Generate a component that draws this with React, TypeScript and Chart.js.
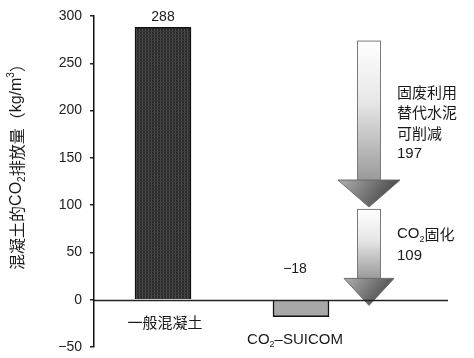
import React, { useEffect, useRef } from "react";
import { Chart, registerables } from "chart.js";

Chart.register(...registerables);

const CATEGORIES = ["一般混凝土", "CO2–SUICOM"];
const VALUES = [288, -18];
const VALUE_LABELS = ["288", "−18"];
const Y_MIN = -50;
const Y_MAX = 300;
const Y_STEP = 50;
// reduction arrows: start value -> end value
const ARROW_FROM = [274, 96];
const ARROW_TO = [98, -6];
const ARROW_TEXT_1 = ["固废利用", "替代水泥", "可削减", "197"];
const ARROW_TEXT_2 = ["CO2固化", "109"];
const Y_TITLE = "混凝土的CO2排放量（kg/m3）";

const LATIN = '"Liberation Sans", Arial, "Noto Sans CJK SC", sans-serif';
const CJK = '"Noto Sans CJK SC", "Liberation Sans", sans-serif';

type Seg = { t: string; sub?: boolean; sup?: boolean };

function parseRich(s: string): Seg[] {
  const out: Seg[] = [];
  let i = 0;
  let buf = "";
  while (i < s.length) {
    if (s.startsWith("CO2", i)) {
      buf += "CO";
      out.push({ t: buf });
      buf = "";
      out.push({ t: "2", sub: true });
      i += 3;
    } else if (s.startsWith("m3", i)) {
      buf += "m";
      out.push({ t: buf });
      buf = "";
      out.push({ t: "3", sup: true });
      i += 2;
    } else {
      buf += s[i];
      i++;
    }
  }
  if (buf) out.push({ t: buf });
  return out;
}

const CJK_RE = /[\u3000-\u9fff\uff00-\uffef]/;

function fontFor(t: string, size: number) {
  return `${size}px ${CJK_RE.test(t) ? CJK : LATIN}`;
}

function splitRuns(t: string): string[] {
  const runs: string[] = [];
  let cur = "";
  let curCjk: boolean | null = null;
  for (const ch of t) {
    const c = CJK_RE.test(ch);
    if (curCjk === null || c === curCjk) {
      cur += ch;
    } else {
      runs.push(cur);
      cur = ch;
    }
    curCjk = c;
  }
  if (cur) runs.push(cur);
  return runs;
}

function drawRich(
  ctx: CanvasRenderingContext2D,
  text: string,
  x: number,
  y: number,
  size: number,
  align: "left" | "center"
) {
  const segs = parseRich(text);
  const pieces: { t: string; size: number; dy: number }[] = [];
  for (const s of segs) {
    const sz = s.sub || s.sup ? Math.round(size * 0.6) : size;
    const dy = s.sub ? size * 0.35 : s.sup ? -size * 0.35 : 0;
    for (const r of splitRuns(s.t)) pieces.push({ t: r, size: sz, dy });
  }
  let total = 0;
  const widths = pieces.map((p) => {
    ctx.font = fontFor(p.t, p.size);
    const w = ctx.measureText(p.t).width;
    total += w;
    return w;
  });
  let cx = align === "center" ? x - total / 2 : x;
  ctx.textAlign = "left";
  ctx.textBaseline = "middle";
  pieces.forEach((p, i) => {
    ctx.font = fontFor(p.t, p.size);
    ctx.fillText(p.t, cx, y + p.dy);
    cx += widths[i];
  });
}

function makePattern(ctx: CanvasRenderingContext2D) {
  const c = document.createElement("canvas");
  c.width = 3;
  c.height = 3;
  const p = c.getContext("2d")!;
  p.fillStyle = "#2b2b2b";
  p.fillRect(0, 0, 3, 3);
  p.fillStyle = "#4d4d4d";
  p.fillRect(1, 0, 1, 3);
  p.fillStyle = "#3a3a3a";
  p.fillRect(0, 1, 3, 1);
  return ctx.createPattern(c, "repeat");
}

function drawArrow(
  ctx: CanvasRenderingContext2D,
  cx: number,
  yTop: number,
  yTip: number,
  shaftHalf: number,
  headHalf: number,
  headLen: number
) {
  const headY = yTip - headLen;
  const g = ctx.createLinearGradient(0, yTop, 0, headY);
  g.addColorStop(0, "#ffffff");
  g.addColorStop(0.45, "#e6e6e6");
  g.addColorStop(1, "#9a9a9a");
  ctx.fillStyle = g;
  ctx.fillRect(cx - shaftHalf, yTop, shaftHalf * 2, headY - yTop);
  ctx.strokeStyle = "#7a7a7a";
  ctx.lineWidth = 1;
  ctx.strokeRect(cx - shaftHalf + 0.5, yTop + 0.5, shaftHalf * 2 - 1, headY - yTop);

  const hg = ctx.createLinearGradient(cx - headHalf, headY, cx + headHalf * 0.4, yTip);
  hg.addColorStop(0, "#b0b0b0");
  hg.addColorStop(1, "#505050");
  ctx.beginPath();
  ctx.moveTo(cx - headHalf, headY);
  ctx.lineTo(cx + headHalf, headY);
  ctx.lineTo(cx, yTip);
  ctx.closePath();
  ctx.fillStyle = hg;
  ctx.fill();
  ctx.strokeStyle = "#6a6a6a";
  ctx.stroke();
}

const overlay = {
  id: "overlay",
  afterDatasetsDraw(chart: any) {
    const ctx: CanvasRenderingContext2D = chart.ctx;
    const ys = chart.scales.y;
    const xs = chart.scales.x;
    const area = chart.chartArea;
    ctx.save();

    const arrowX = area.right - 1;
    const heads = [
      { half: 31, len: 27 },
      { half: 25, len: 27 },
    ];
    ARROW_FROM.forEach((from, i) => {
      drawArrow(
        ctx,
        arrowX,
        ys.getPixelForValue(from),
        ys.getPixelForValue(ARROW_TO[i]),
        12,
        heads[i].half,
        heads[i].len
      );
    });

    const y0 = Math.round(ys.getPixelForValue(0)) + 0.5;
    ctx.beginPath();
    ctx.moveTo(area.left, y0);
    ctx.lineTo(area.right + 78, y0);
    ctx.strokeStyle = "#222";
    ctx.lineWidth = 1.5;
    ctx.stroke();

    ctx.fillStyle = "#1a1a1a";
    VALUES.forEach((v, i) => {
      const x = xs.getPixelForValue(i);
      const y = v >= 0 ? ys.getPixelForValue(v) - 10 : ys.getPixelForValue(0) - 31;
      drawRich(ctx, VALUE_LABELS[i], v >= 0 ? x : x - 6, y, 14, "center");
    });

    CATEGORIES.forEach((c, i) => {
      const x = xs.getPixelForValue(i);
      const bottom = ys.getPixelForValue(Math.min(0, VALUES[i]));
      drawRich(ctx, c, i === 0 ? x + 2 : x - 6, bottom + 23, 15, "center");
    });

    const tx = arrowX + 28;
    ARROW_TEXT_1.forEach((t, i) => drawRich(ctx, t, tx, 92 + i * 20.5, 15, "left"));
    ARROW_TEXT_2.forEach((t, i) => drawRich(ctx, t, tx, 234 + i * 22, 15, "left"));

    ctx.translate(17, 163);
    ctx.rotate(-Math.PI / 2);
    drawRich(ctx, Y_TITLE, 0, 0, 16, "center");
    ctx.restore();
  },
};

export default function App() {
  const ref = useRef<HTMLCanvasElement>(null);
  useEffect(() => {
    const canvas = ref.current!;
    const ctx = canvas.getContext("2d")!;
    const pattern = makePattern(ctx);
    const chart = new Chart(canvas, {
      type: "bar",
      data: {
        labels: CATEGORIES,
        datasets: [
          {
            data: VALUES,
            backgroundColor: [pattern as any, "#a8a8a8"],
            borderColor: "#111",
            borderWidth: 1.5,
            barThickness: 56,
          },
        ],
      },
      options: {
        animation: false,
        responsive: false,
        maintainAspectRatio: false,
        layout: { padding: { top: 16, bottom: 11, right: 104, left: 0 } },
        plugins: { legend: { display: false }, tooltip: { enabled: false } },
        scales: {
          x: { display: false },
          y: {
            min: Y_MIN,
            max: Y_MAX,
            afterFit: (s: any) => {
              s.width = 94;
              s.paddingTop = 0;
              s.paddingBottom = 0;
            },
            ticks: {
              stepSize: Y_STEP,
              padding: 8,
              color: "#222",
              font: { family: "Liberation Sans", size: 14 },
              callback: (v: any) => (v < 0 ? "−" + Math.abs(v) : String(v)),
            },
            grid: {
              drawOnChartArea: false,
              drawTicks: true,
              tickLength: 4,
              color: "#222",
              lineWidth: 1.5,
            },
            border: { display: true, color: "#111", width: 1.5 },
          },
        },
      },
      plugins: [overlay],
    });
    return () => chart.destroy();
  }, []);
  return (
    <div style={{ position: "fixed", left: 0, top: 0, width: 474, height: 358, background: "#fff" }}>
      <canvas ref={ref} width={474} height={358} style={{ width: 474, height: 358 }} />
    </div>
  );
}
